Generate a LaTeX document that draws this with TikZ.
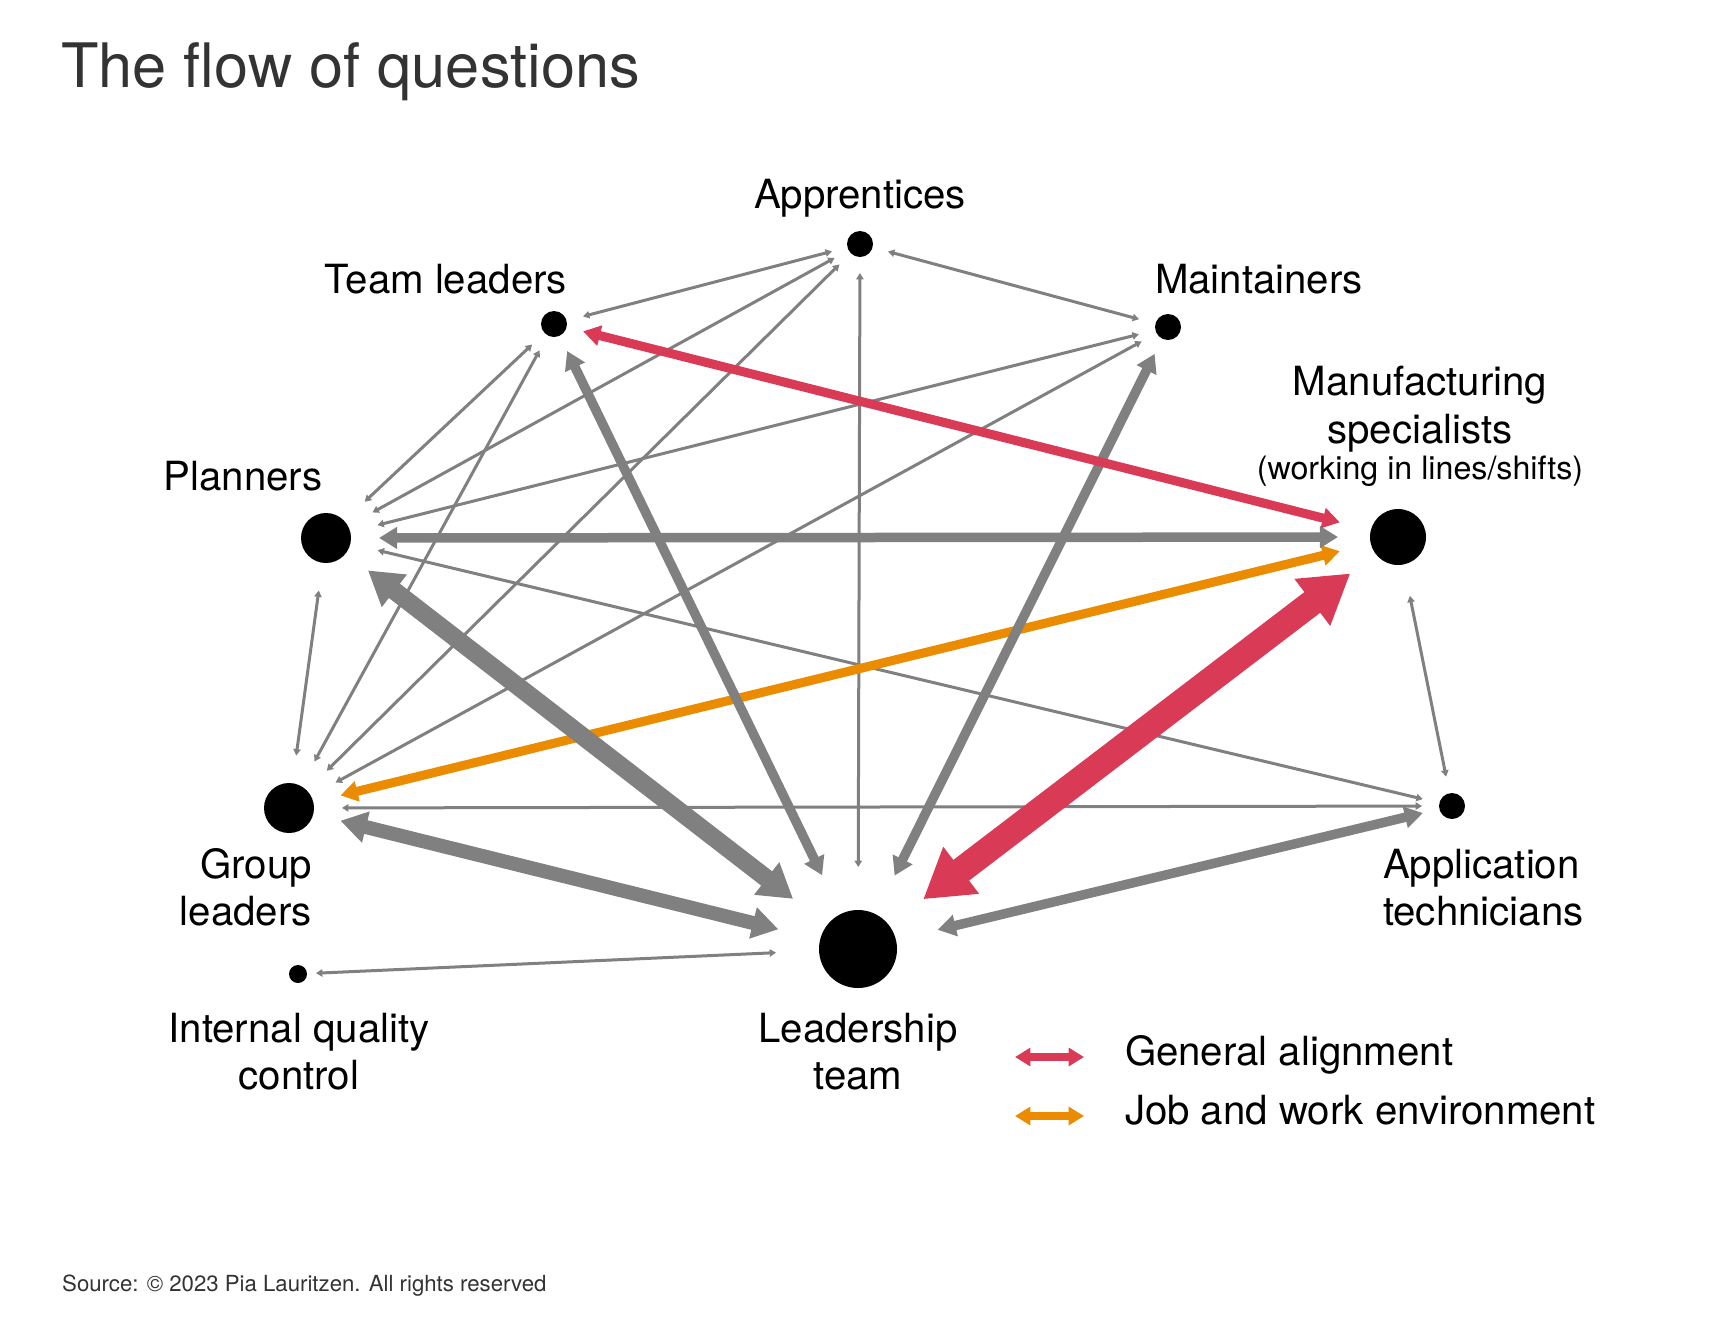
\documentclass[tikz,border=0pt]{standalone}
\usepackage{fontspec}
\setmainfont{TeX Gyre Heros}
\usetikzlibrary{arrows.meta}
\definecolor{edgegray}{HTML}{808080}
\definecolor{alignred}{HTML}{D93A56}
\definecolor{joborange}{HTML}{EB8C00}
\definecolor{titlegray}{HTML}{333333}
\begin{document}
\begin{tikzpicture}[x=1pt,y=-1pt,
  >={Triangle[length=1pt 1.8,width=1pt 2.1]},
  halo/.style={circle,inner sep=0pt,outer sep=0pt,minimum size=#1},
  dot/.style={circle,fill=black,inner sep=0pt,outer sep=0pt,minimum size=#1},
  lbl/.style={inner sep=0pt,outer sep=0pt,anchor=base,font=\fontsize{40.2}{47}\selectfont},
  sublbl/.style={inner sep=0pt,outer sep=0pt,anchor=base,font=\fontsize{32.2}{38}\selectfont},
  ethin/.style={draw=edgegray,line width=3pt,<->},
  emed/.style={draw=edgegray,line width=9.5pt,<->},
  ewide/.style={draw=edgegray,line width=#1,<->},
  ered/.style={draw=alignred,line width=#1,<->},
  eorange/.style={draw=joborange,line width=#1,<->}
]
\fill[white] (0,0) rectangle (1736,1318);
\useasboundingbox (0,0) rectangle (1736,1318);

% title and source
\node[inner sep=0pt,anchor=base west,text=titlegray,font=\fontsize{61.3}{72}\selectfont] (title) at (61,87) {The flow of questions};
\node[inner sep=0pt,anchor=base west,text=titlegray,font=\fontsize{22.2}{26}\selectfont] (source) at (62,1291) {Source: © 2023 Pia Lauritzen. All rights reserved};

% halos (arrow end rings)
\node[halo=58]  (app)  at (860,244) {};
\node[halo=60]  (team) at (554,324) {};
\node[halo=60]  (mnt)  at (1168,327) {};
\node[halo=106] (pl)   at (326,538) {};
\node[halo=120] (ms)   at (1398,537) {};
\node[halo=106] (gl)   at (289,808) {};
\node[halo=60]  (at)   at (1452,806) {};
\node[halo=164] (lt)   at (858,949) {};
\node[halo=36]  (iqc)  at (298,974) {};

% dots
\node[dot=26] (appdot)  at (app)  {};
\node[dot=26] (teamdot) at (team) {};
\node[dot=26] (mntdot)  at (mnt)  {};
\node[dot=50] (pldot)   at (pl)   {};
\node[dot=56] (msdot)   at (ms)   {};
\node[dot=50] (gldot)   at (gl)   {};
\node[dot=26] (atdot)   at (at)   {};
\node[dot=78] (ltdot)   at (lt)   {};
\node[dot=18] (iqcdot)  at (iqc)  {};

% labels
\node[lbl] (applbl)  at (860,208) {Apprentices};
\node[lbl] (teamlbl) at (446,293) {Team leaders};
\node[lbl] (mntlbl)  at (1259,293) {Maintainers};
\node[lbl] (mslblA)  at (1420,395) {Manufacturing};
\node[lbl] (mslblB)  at (1420,443) {specialists};
\node[sublbl] (mslblC) at (1420,479) {(working in lines/shifts)};
\node[lbl] (pllbl)   at (243,490) {Planners};
\node[lbl,anchor=base east] (gllblA) at (312,878) {Group};
\node[lbl,anchor=base east] (gllblB) at (312,925) {leaders};
\node[lbl,anchor=base west] (atlblA) at (1383,878) {Application};
\node[lbl,anchor=base west] (atlblB) at (1383,925) {technicians};
\node[lbl] (ltlblA)  at (858,1042) {Leadership};
\node[lbl] (ltlblB)  at (858,1089) {team};
\node[lbl] (iqclblA) at (299,1042) {Internal quality};
\node[lbl] (iqclblB) at (299,1089) {control};

% thin gray connectors
\draw[ethin] (app) -- (team);
\draw[ethin] (app) -- (mnt);
\draw[ethin] (app) -- (pl);
\draw[ethin] (app) -- (gl);
\draw[ethin] (app) -- (lt);
\draw[ethin] (team) -- (pl);
\draw[ethin] (team) -- (gl);
\draw[ethin] (mnt) -- (pl);
\draw[ethin] (mnt) -- (gl);
\draw[ethin] (pl) -- (gl);
\draw[ethin] (pl) -- (at);
\draw[ethin] (gl) -- (at);
\draw[ethin] (ms) -- (at);
\draw[ethin] (iqc) -- (lt);

% orange
\draw[eorange=9pt] (gl) -- (ms);

% medium and wide gray connectors
\draw[emed] (team) -- (lt);
\draw[emed] (mnt) -- (lt);
\draw[emed] (pl) -- (ms);
\draw[emed] (at) -- (lt);
\draw[ewide=14pt] (gl) -- (lt);
\draw[ewide=18pt] (pl) -- (lt);

% red
\draw[ered=9pt] (team) -- (ms);
\draw[ered=26pt] (ms) -- (lt);

% legend
\coordinate (lgA1) at (1015,1057);
\coordinate (lgA2) at (1084,1057);
\coordinate (lgB1) at (1015,1116);
\coordinate (lgB2) at (1084,1116);
\draw[ered=8pt] (lgA1) -- (lgA2);
\draw[eorange=8pt] (lgB1) -- (lgB2);
\node[lbl,anchor=base west] (lgAtxt) at (1125,1065) {General alignment};
\node[lbl,anchor=base west] (lgBtxt) at (1125,1124) {Job and work environment};
\end{tikzpicture}
\end{document}
